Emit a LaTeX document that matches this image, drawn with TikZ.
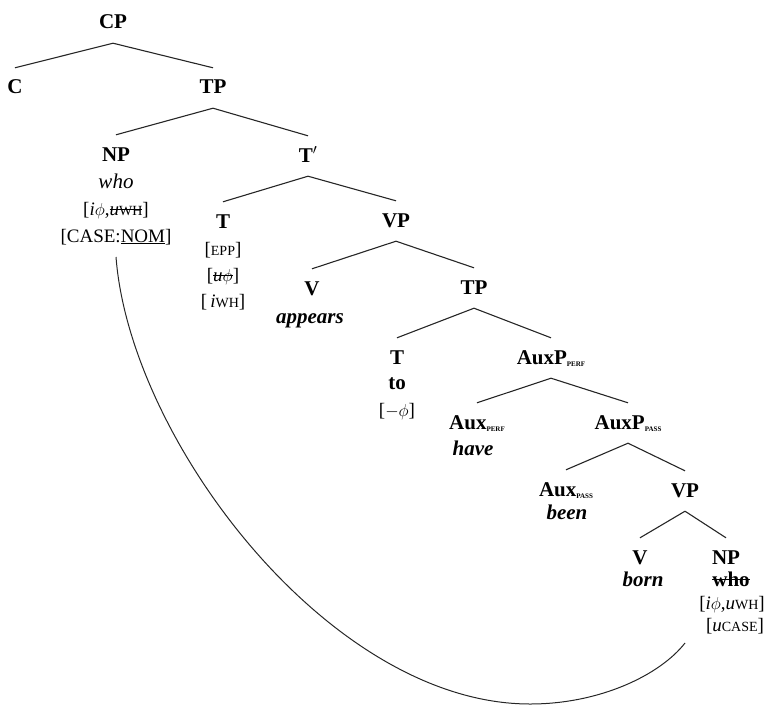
\documentclass[tikz,border=0pt]{standalone}
\usepackage{fontspec}
\setmainfont{Liberation Serif}
\newsavebox\strkbox
\newcommand{\strk}[1]{\sbox\strkbox{#1}\rlap{\rule[0.28em]{\wd\strkbox}{0.9pt}}\usebox\strkbox}
\newcommand{\fsc}[1]{{\fontsize{14}{14}\selectfont #1}}
\newcommand{\subsc}[1]{\raisebox{-2pt}{\fontsize{7}{7}\selectfont\bfseries #1}}
\tikzset{
  cat/.style={inner sep=0pt, text height=14pt, text depth=0pt, font=\fontsize{21}{25}\selectfont\bfseries},
  word/.style={inner sep=0pt, text height=14pt, text depth=0pt, font=\fontsize{21}{25}\selectfont\bfseries\itshape},
  feat/.style={inner sep=0pt, text height=14pt, text depth=0pt, font=\fontsize{19}{23}\selectfont},
  branch/.style={line width=1.1pt, black!85},
  movement/.style={line width=1.0pt, black!85}
}
\newcommand{\br}[2]{\draw[branch] ([yshift=-14pt]#1.south) -- ([yshift=12pt]#2.north);}
\begin{document}
\begin{tikzpicture}[x=1pt,y=-1pt]
\useasboundingbox (0,0) rectangle (767,706);
% nodes
\node[cat] (cp) at (113,22) {CP};
\node[cat] (c) at (15,87) {C};
\node[cat] (tp1) at (213,87) {TP};
\node[cat] (np1) at (116,154) {NP};
\node[word,font=\fontsize{21}{25}\selectfont\itshape] (np1a) at (116,181) {who};
\node[feat] (np1b) at (116,208) {[\textit{i}$\phi$,\strk{\textit{u}\fsc{WH}}]};
\node[feat] (np1c) at (116,235) {[CASE:\underline{NOM}]};
\node[cat] (tbar) at (308,155) {T$'$};
\node[cat] (t1) at (223,221) {T};
\node[feat] (t1a) at (223,248) {[\fsc{EPP}]};
\node[feat] (t1b) at (223,274) {[\strk{\textit{u}$\phi$}]};
\node[feat] (t1c) at (223,300) {[\,\textit{i}\fsc{WH}]};
\node[cat] (vp1) at (396,220) {VP};
\node[cat] (v1) at (312,288) {V};
\node[word] (v1a) at (310,316) {appears};
\node[cat] (tp2) at (474,287) {TP};
\node[cat] (t2) at (397,357) {T};
\node[cat] (t2a) at (397,382) {to};
\node[feat] (t2b) at (397,409) {[$-\phi$]};
\node[cat] (auxp1) at (551,357) {AuxP\subsc{PERF}};
\node[cat] (aux1) at (477,422) {Aux\subsc{PERF}};
\node[word] (aux1a) at (473,448) {have};
\node[cat] (auxp2) at (628,422) {AuxP\subsc{PASS}};
\node[cat] (aux2) at (566,489) {Aux\subsc{PASS}};
\node[word] (aux2a) at (567,512) {been};
\node[cat] (vp2) at (685,490) {VP};
\node[cat] (v2) at (640,557) {V};
\node[word] (v2a) at (643,579) {born};
\node[cat] (np2) at (726,557) {NP};
\node[cat] (np2a) at (731,579) {\strk{who}};
\node[feat] (np2b) at (732,602) {[\textit{i}$\phi$,\textit{u}\fsc{WH}]};
\node[feat] (np2c) at (735,624) {[\textit{u}\fsc{CASE}]};
% branches
\br{cp}{c}
\br{cp}{tp1}
\br{tp1}{np1}
\br{tp1}{tbar}
\br{tbar}{t1}
\br{tbar}{vp1}
\br{vp1}{v1}
\br{vp1}{tp2}
\br{tp2}{t2}
\br{tp2}{auxp1}
\br{auxp1}{aux1}
\br{auxp1}{auxp2}
\br{auxp2}{aux2}
\br{auxp2}{vp2}
\br{vp2}{v2}
\br{vp2}{np2}
% movement line
\coordinate (mvstart) at (116,257);
\coordinate (mvend) at (685,643);
\draw[movement] (mvstart) .. controls (130,440) and (330,704) .. (530,704)
  .. controls (600,704) and (660,675) .. (mvend);
\end{tikzpicture}
\end{document}
